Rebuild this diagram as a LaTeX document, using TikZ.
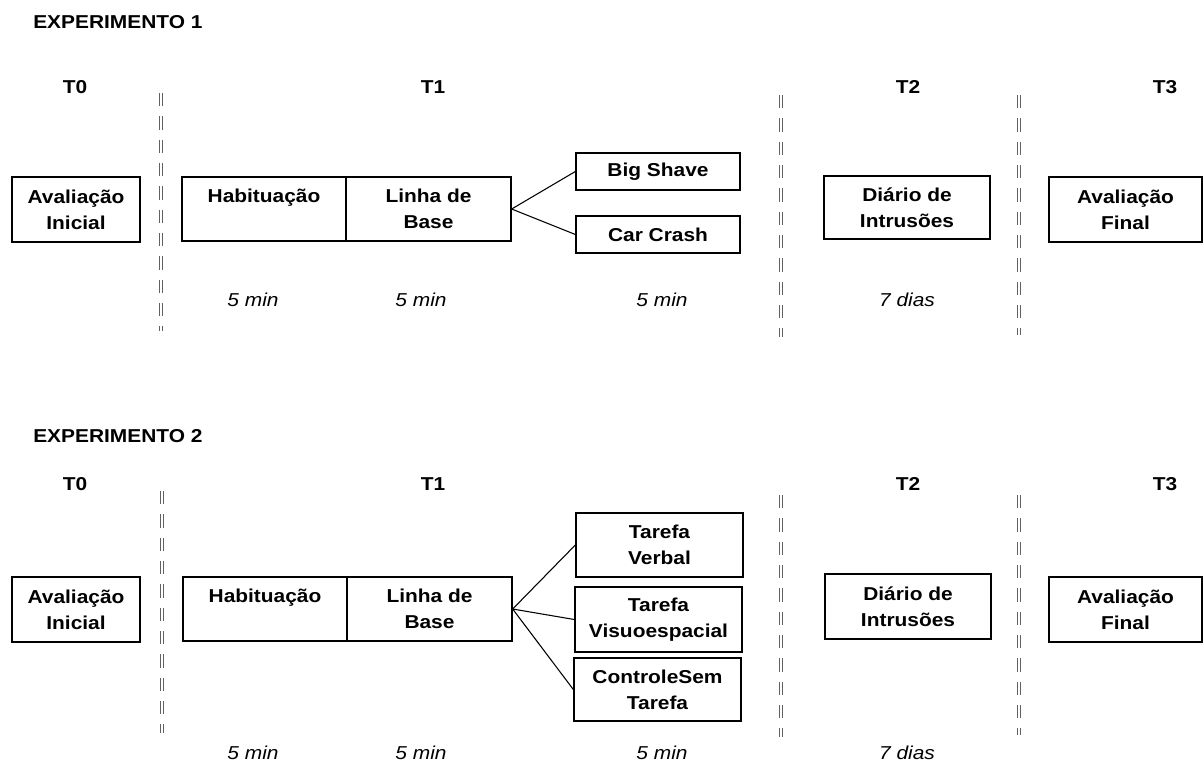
\documentclass[tikz,border=0pt]{standalone}
\usepackage{fontspec}
\setmainfont[FakeStretch=1.12]{Liberation Sans}
\newcommand{\fonteBase}{\fontsize{14}{19.5}\selectfont}

\begin{document}
\begin{tikzpicture}[x=0.75pt, y=-0.75pt,
  caixa/.style={draw, line width=1pt, inner sep=0pt, align=center, font=\fonteBase\bfseries},
  rotulo/.style={font=\fonteBase\bfseries},
  duracao/.style={font=\fonteBase\itshape},
  divisor/.style={draw=black!62, line width=0.75pt, dash pattern=on 10pt off 7.5pt},
  ligacao/.style={line width=0.8pt}]

\useasboundingbox (0,0) rectangle (1203,765);

% ---------------- Experimento 1
\node [rotulo, anchor=west, inner sep=0pt] (titA) at (33,22) {EXPERIMENTO 1};
\node [rotulo] (tzeroA) at (75,87) {T0};
\node [rotulo] (tumA) at (433,87) {T1};
\node [rotulo] (tdoisA) at (908,87) {T2};
\node [rotulo] (ttresA) at (1165,87) {T3};

\foreach \s in {-0.8pt,0.8pt} {
  \draw [divisor, xshift=\s] (161,93) -- (161,331);
  \draw [divisor, xshift=\s] (781,95) -- (781,337);
  \draw [divisor, xshift=\s] (1019,95) -- (1019,335);
}

\node [caixa, minimum width=96pt, minimum height=48.75pt] (iniA) at (76,209.5) {Avaliação\\Inicial};
\node [caixa, minimum width=123pt, minimum height=48pt] (habA) at (264,209) {Habituação\\\mbox{}};
\node [caixa, minimum width=123.75pt, minimum height=48pt] (linA) at (428.5,209) {Linha de\\Base};
\node [caixa, minimum width=123pt, minimum height=27.75pt] (bigA) at (658,171.5) {Big Shave};
\node [caixa, minimum width=123pt, minimum height=27.75pt] (carA) at (658,234.5) {Car Crash};
\node [caixa, minimum width=124.5pt, minimum height=47.25pt] (diaA) at (907,207.5) {Diário de\\Intrusões};
\node [caixa, minimum width=114.75pt, minimum height=48.75pt] (finA) at (1125.5,209.5) {Avaliação\\Final};

\draw [ligacao] (linA.east) -- (bigA.west);
\draw [ligacao] (linA.east) -- (carA.west);

\node [duracao] (dhabA) at (253,300) {5 min};
\node [duracao] (dlinA) at (421,300) {5 min};
\node [duracao] (dvidA) at (662,300) {5 min};
\node [duracao] (ddiaA) at (907,300) {7 dias};

% ---------------- Experimento 2
\node [rotulo, anchor=west, inner sep=0pt] (titB) at (33,436) {EXPERIMENTO 2};
\node [rotulo] (tzeroB) at (75,484) {T0};
\node [rotulo] (tumB) at (433,484) {T1};
\node [rotulo] (tdoisB) at (908,484) {T2};
\node [rotulo] (ttresB) at (1165,484) {T3};

\foreach \s in {-0.8pt,0.8pt} {
  \draw [divisor, xshift=\s] (162,491) -- (162,733);
  \draw [divisor, xshift=\s] (781,495) -- (781,737);
  \draw [divisor, xshift=\s] (1019,495) -- (1019,735);
}

\node [caixa, minimum width=96pt, minimum height=48.75pt] (iniB) at (76,609.5) {Avaliação\\Inicial};
\node [caixa, minimum width=123pt, minimum height=48pt] (habB) at (265,609) {Habituação\\\mbox{}};
\node [caixa, minimum width=123.75pt, minimum height=48pt] (linB) at (429.5,609) {Linha de\\Base};
\node [caixa, minimum width=125.25pt, minimum height=48pt] (verB) at (659.5,545) {Tarefa\\Verbal};
\node [caixa, minimum width=125.25pt, minimum height=48.75pt] (visB) at (658.5,619.5) {Tarefa\\Visuoespacial};
\node [caixa, minimum width=125.25pt, minimum height=47.25pt] (conB) at (657.5,689.5) {ControleSem\\Tarefa};
\node [caixa, minimum width=124.5pt, minimum height=48.75pt] (diaB) at (908,606.5) {Diário de\\Intrusões};
\node [caixa, minimum width=114.75pt, minimum height=48.75pt] (finB) at (1125.5,609.5) {Avaliação\\Final};

\draw [ligacao] (linB.east) -- (verB.west);
\draw [ligacao] (linB.east) -- (visB.west);
\draw [ligacao] (linB.east) -- (conB.west);

\node [duracao] (dhabB) at (253,753) {5 min};
\node [duracao] (dlinB) at (421,753) {5 min};
\node [duracao] (dvidB) at (662,753) {5 min};
\node [duracao] (ddiaB) at (907,753) {7 dias};

\end{tikzpicture}
\end{document}
